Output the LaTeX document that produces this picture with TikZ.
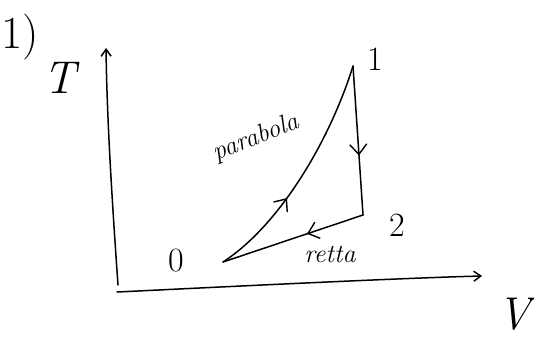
\documentclass[tikz,border=0pt]{standalone}
\usetikzlibrary{arrows.meta,decorations.markings}
\begin{document}
\begin{tikzpicture}[x=1pt,y=-1pt,
  ink/.style={line width=1.5pt,line cap=round,line join=round},
  axisline/.style={ink,-{Straight Barb[length=7pt,width=10pt]}},
  midarrow/.style={postaction={decorate},decoration={markings,
     mark=at position #1 with {\arrow{Straight Barb[length=10pt,width=17pt,line width=1.4pt]}}}},
  lbl/.style={inner sep=0pt}]
\useasboundingbox (0,0) rectangle (534,338);
% labels
\node[lbl,font=\fontsize{46}{46}\selectfont] (num) at (20,37) {1)};
\node[lbl,font=\fontsize{46}{46}\selectfont\itshape] (tlab) at (60,78) {T};
\node[lbl,font=\fontsize{46}{46}\selectfont\itshape] (vlab) at (514,314) {V};
% axes
\coordinate (orig) at (117,292);
\coordinate (ytip) at (106,48);
\coordinate (xtip) at (482,276);
\draw[axisline] (118,285) .. controls (112,200) and (107,120) .. (ytip);
\draw[axisline] (orig) .. controls (200,288) and (400,278) .. (xtip);
% states
\coordinate (p0) at (223,262);
\coordinate (p1) at (353,66);
\coordinate (p2) at (363,215);
\node[lbl,font=\fontsize{34}{34}\selectfont] (l0) at (176,261) {0};
\node[lbl,font=\fontsize{34}{34}\selectfont] (l1) at (375,59) {1};
\node[lbl,font=\fontsize{34}{34}\selectfont] (l2) at (397,225) {2};
% cycle
\draw[ink,midarrow=0.38] (p0) .. controls (280,225) and (330,140) .. (p1);
\draw[ink,midarrow=0.6] (p1) -- (p2);
\draw[ink,midarrow=0.4] (p2) -- (p0);
% curve labels
\node[lbl,font=\fontsize{26}{26}\selectfont\itshape,rotate=22] (lpar) at (256,138) {parabola};
\node[lbl,font=\fontsize{26}{26}\selectfont\itshape] (lret) at (330,254) {retta};
\end{tikzpicture}
\end{document}
